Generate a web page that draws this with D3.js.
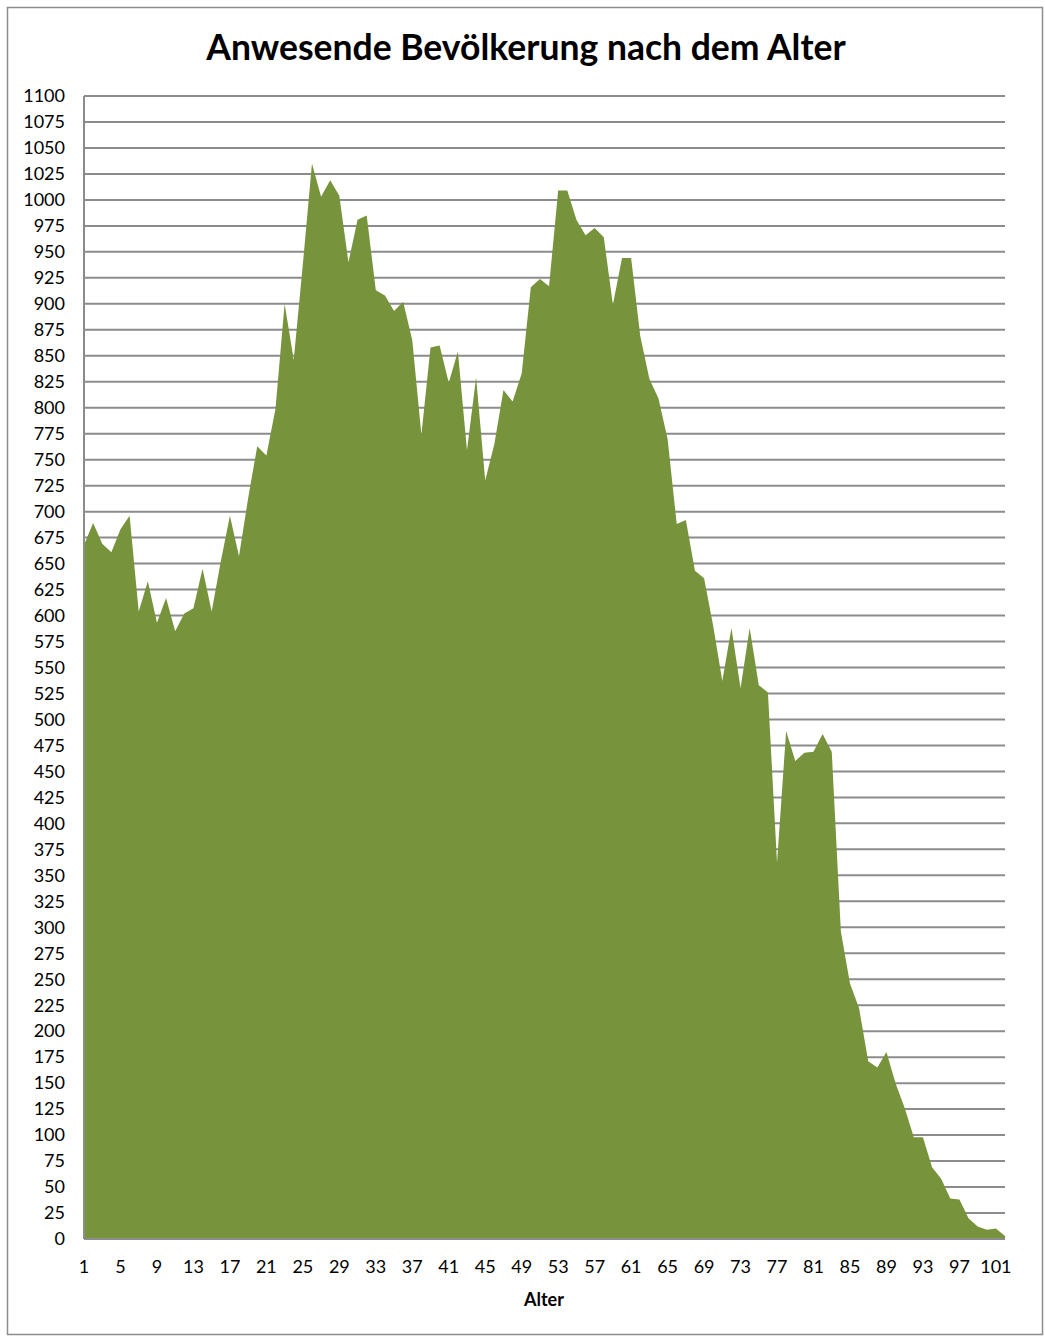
<!DOCTYPE html>
<html>
<head>
<meta charset="utf-8">
<script src="https://cdn.jsdelivr.net/npm/d3@7"></script>
<style>
  body { margin: 0; background: #fff; }
  text { font-family: Lato, "Open Sans", sans-serif; fill: #000; }
</style>
</head>
<body>
<svg id="chart" width="1045" height="1337"></svg>
<script>
// Alter 1..102
var ages = d3.range(1, 103);
var people = [668, 689, 669, 661, 683, 696, 604, 633, 593, 617,
              585, 602, 607, 645, 604, 652, 696, 657, 713, 763,
              754, 799, 900, 846, 938, 1035, 1003, 1019, 1004, 940,
              981, 985, 913, 908, 893, 902, 865, 774, 858, 860,
              824, 854, 759, 829, 730, 765, 817, 806, 833, 916,
              924, 917, 1009, 1009, 981, 966, 973, 964, 899, 944,
              944, 869, 828, 809, 770, 688, 692, 643, 636, 590,
              537, 588, 530, 588, 533, 526, 362, 489, 460, 468,
              469, 486, 469, 296, 246, 222, 171, 165, 180, 150,
              126, 98, 98, 69, 58, 39, 38, 20, 12, 9,
              10, 3];
var yTicks = d3.range(0, 1101, 25);
var xTickAges = d3.range(1, 102, 4);

var svg = d3.select("#chart");

var plotL = 84, plotR = 1005, plotT = 96, plotB = 1239;

var x = d3.scaleLinear().domain([1, 102]).range([plotL, plotR]);
var y = d3.scaleLinear().domain([0, 1100]).range([plotB, plotT]);

// frame
svg.append("rect")
    .attr("x", 7.5).attr("y", 7.5)
    .attr("width", 1035).attr("height", 1327)
    .attr("fill", "none").attr("stroke", "#8c8c8c").attr("stroke-width", 1.5);

// gridlines
svg.append("g")
    .selectAll("line")
    .data(yTicks)
    .join("line")
    .attr("x1", plotL).attr("x2", plotR)
    .attr("y1", function(d) { return y(d); })
    .attr("y2", function(d) { return y(d); })
    .attr("stroke", "#8c8c8c").attr("stroke-width", 2);

// area
var area = d3.area()
    .x(function(d, i) { return x(ages[i]); })
    .y0(y(0))
    .y1(function(d) { return y(d); });

svg.append("path")
    .datum(people)
    .attr("d", area)
    .attr("fill", "#77933c");

// axis lines
svg.append("line")
    .attr("x1", plotL).attr("x2", plotL)
    .attr("y1", plotT).attr("y2", plotB)
    .attr("stroke", "#8c8c8c").attr("stroke-width", 2);
svg.append("line")
    .attr("x1", plotL).attr("x2", plotR)
    .attr("y1", plotB).attr("y2", plotB)
    .attr("stroke", "#8c8c8c").attr("stroke-width", 2);

// y labels
svg.append("g")
    .selectAll("text")
    .data(yTicks)
    .join("text")
    .attr("x", 65)
    .attr("y", function(d) { return y(d); })
    .attr("dy", "0.35em")
    .attr("text-anchor", "end")
    .style("font-size", "18px")
    .text(function(d) { return d; });

// x labels
svg.append("g")
    .selectAll("text")
    .data(xTickAges)
    .join("text")
    .attr("x", function(d) { return x(d); })
    .attr("y", 1267)
    .attr("dy", "0.35em")
    .attr("text-anchor", "middle")
    .style("font-size", "18px")
    .text(function(d) { return d; });

// title
svg.append("text")
    .attr("x", 526).attr("y", 48)
    .attr("dy", "0.35em")
    .attr("text-anchor", "middle")
    .style("font-size", "35.5px").style("font-weight", "bold")
    .text("Anwesende Bevölkerung nach dem Alter");

// x axis title
svg.append("text")
    .attr("x", 544).attr("y", 1300)
    .attr("dy", "0.35em")
    .attr("text-anchor", "middle")
    .style("font-size", "18px").style("font-weight", "bold")
    .text("Alter");
</script>
</body>
</html>
